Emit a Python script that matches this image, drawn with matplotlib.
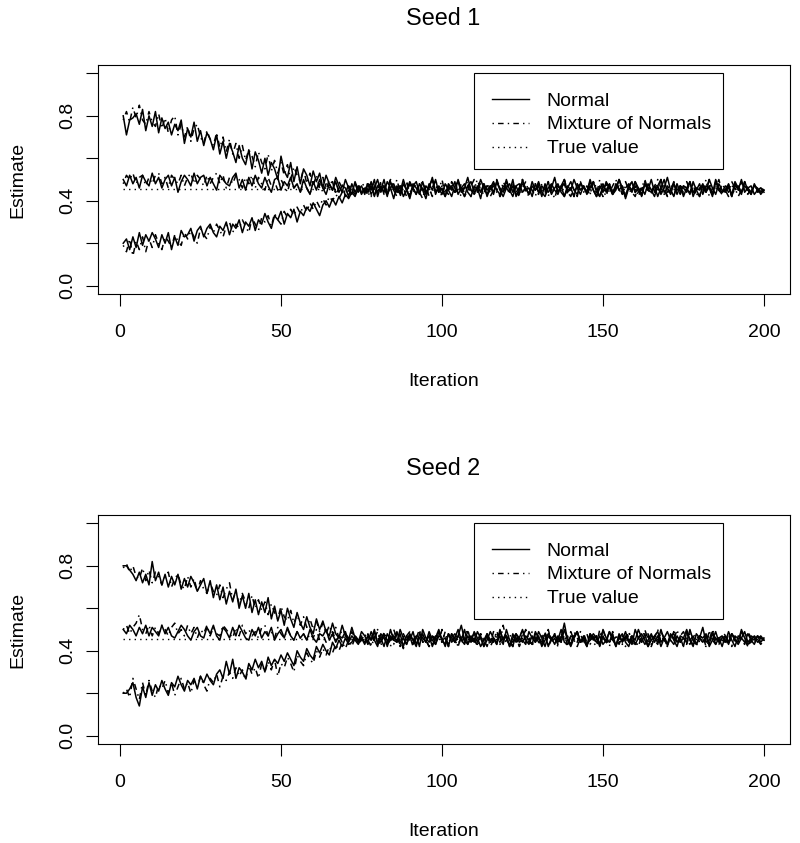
import numpy as np
import matplotlib.pyplot as plt
from matplotlib.patches import Rectangle

plt.rcParams['font.family'] = ['Liberation Sans', 'DejaVu Sans']

# estimates per iteration in hundredths (iterations 1..200)
seed1_normal_hi = """
80 71 78 79 81 76 83 73 80 75 82 72 79 74 77 71 76 73 78 67
74 70 77 68 73 66 72 69 64 71 62 68 60 67 63 58 66 60 57 64
55 63 59 53 60 52 58 55 50 61 54 51 58 49 56 48 55 52 47 54
49 53 46 52 48 45 51 47 44 50 46 43 49 45 47
43 48 45 50 42 47 44 49 46 41 47 44 50 45 42 48 46 43 49 44
46 51 43 47 45 42 48 46 44 50 45 42 47 49 44 46 41 48 45 47
43 49 46 44 50 45 42 47 48 44 46 43 49 45 47 42 48 44 46 51
44 47 42 46 49 45 43 48 46 44 50 45 42 47 44 49 46 43 48 45
47 41 46 49 44 46 42 48 45 50 44 47 43 46 51 45 42 48 44 47
46 43 49 45 42 47 44 50 46 43 48 45 44 47 42 49 46 44 47 45
43 48 45 46 44
"""
seed1_mix_hi = """
78 82 77 84 79 85 78 76 82 77 75 81 74 79 72 78 80 71 76 70
75 68 74 76 70 67 73 69 66 72 65 70 63 69 62 67 60 66 59 64
61 56 63 58 55 62 54 59 53 58 52 57 50 56 52 49 55 48 53 47
52 46 51 45 50 48 44 49 46 43 48 45 43 48 44
47 42 46 49 44 48 43 46 50 45 42 47 45 49 43 46 48 44 41 47
45 50 44 46 42 48 45 47 43 49 46 44 48 42 46 50 45 43 47 44
48 46 42 45 49 44 47 43 46 50 45 42 47 48 44 46 43 49 45 41
47 45 50 44 46 42 48 45 44 47 43 49 46 42 45 48 44 47 50 45
43 46 48 44 42 47 45 49 46 43 47 44 50 45 42 46 48 44 47 43
45 49 44 46 42 48 45 47 43 46 50 44 45 48 42 46 47 44 49 45
43 47 45 44 46
"""
seed1_normal_mid = """
50 47 52 48 51 46 52 49 47 53 48 51 46 50 52 47 51 44 49 52
50 47 53 48 51 52 47 51 48 45 52 50 48 47 51 53 46 50 45 51
47 52 48 46 51 47 44 50 51 45 49 47 51 46 48 44 50 46 43 49
45 50 46 43 48 45 49 44 47 46 42 48 44 47 43
46 44 49 42 47 45 50 43 46 48 44 47 42 45 49 46 43 48 45 41
47 50 44 46 43 48 45 42 47 49 44 46 51 45 43 47 44 48 42 46
49 45 43 47 46 44 50 42 45 48 46 43 47 45 49 44 42 46 48 45
43 47 50 44 46 42 48 45 47 43 46 49 44 42 47 45 48 43 46 50
45 42 47 44 49 46 43 48 45 44 47 42 46 50 44 45 48 43 47 46
44 49 42 46 45 48 44 47 43 50 46 44 45 48 42 47 46 43 49 45
44 47 46 43 45
"""
seed1_mix_mid = """
48 52 50 53 48 51 52 47 51 48 52 53 48 51 46 52 50 48 52 47
51 53 48 52 50 47 52 48 51 53 48 52 46 51 48 52 50 46 51 48
52 46 51 48 45 51 47 49 45 50 47 44 50 46 48 44 49 46 43 49
45 48 44 48 46 49 43 46 48 42 47 44 48 44 46
44 49 46 42 48 45 47 43 50 46 45 42 47 49 44 46 43 48 45 47
42 46 50 44 47 45 43 49 46 44 48 42 45 47 50 44 46 43 48 45
47 44 42 49 46 45 48 43 46 50 44 47 45 42 48 46 44 49 43 46
47 45 50 44 42 47 46 48 44 45 43 49 46 45 42 48 47 44 46 50
45 43 47 49 44 46 42 48 45 47 44 50 46 43 47 45 42 48 46 44
49 45 43 47 46 44 50 42 46 48 45 43 47 44 49 46 42 45 48 46
44 47 45 43 46
"""
seed1_normal_lo = """
20 22 17 23 18 25 19 24 21 25 22 18 24 20 25 17 23 19 26 23
24 27 21 26 28 23 27 29 25 23 28 26 30 24 29 27 31 25 30 28
32 26 31 29 34 30 27 33 31 35 29 34 32 36 30 35 33 37 35 39
36 33 38 40 37 41 38 42 39 43 41 44 42 46 44
45 48 43 46 50 44 47 42 49 45 46 43 48 45 41 47 49 44 46 43
48 45 50 44 46 42 47 45 49 43 46 48 44 42 47 45 50 46 43 47
44 49 45 42 46 48 44 47 43 50 45 46 42 48 44 47 45 49 43 46
48 44 42 47 45 50 46 43 47 44 49 45 42 46 48 44 47 43 45 50
46 42 47 45 49 44 46 43 48 45 42 47 50 44 46 43 48 45 47 42
46 49 44 45 48 43 47 46 42 49 45 44 47 46 43 48 45 50 44 46
47 43 45 46 45
"""
seed1_mix_lo = """
19 16 22 14 21 17 23 16 22 18 24 20 17 23 21 18 24 21 19 25
22 26 23 20 27 24 22 28 25 29 26 23 28 30 25 29 27 31 28 25
32 29 26 32 30 33 28 34 31 29 35 32 36 33 37 34 38 35 39 36
40 37 41 38 42 40 43 41 44 42 45 43 46 44 47
48 45 42 47 44 49 46 43 47 45 50 44 46 42 48 45 43 47 49 44
46 42 47 45 50 43 46 48 44 45 42 47 49 45 43 46 48 44 47 42
45 50 46 44 47 43 48 45 42 46 49 44 47 45 43 48 46 42 47 50
44 45 48 43 46 47 42 49 45 44 47 46 43 50 45 42 48 44 46 47
43 49 45 44 47 42 46 50 45 43 48 46 44 47 42 45 49 46 43 47
45 44 48 42 46 47 45 50 43 46 44 48 45 42 47 46 44 49 45 43
46 47 44 45 46
"""

seed2_normal_hi = """
80 80 78 76 73 77 72 76 71 82 73 77 71 76 70 75 71 76 69 74
70 75 72 68 71 74 67 73 65 71 64 70 62 68 63 69 60 66 60 67
58 64 57 63 58 65 55 61 54 59 52 60 55 51 58 53 50 56 51 48
55 50 54 49 47 53 48 46 52 47 45 51 46 44 49
47 44 49 45 42 48 46 43 50 45 44 48 42 47 45 49 43 46 48 44
47 42 46 50 45 43 48 46 44 47 52 45 43 47 44 49 46 42 48 45
46 43 49 45 47 42 48 44 46 50 45 43 47 44 49 46 42 47 45 48
44 46 53 45 43 47 49 44 46 42 48 45 47 43 50 46 44 48 42 46
45 49 44 47 43 46 48 45 42 47 46 44 50 45 43 47 48 44 46 42
49 45 47 43 46 51 44 45 48 43 46 47 44 49 45 42 47 46 44 48
45 43 47 46 45
"""
seed2_mix_hi = """
79 81 77 80 75 74 79 73 78 72 77 75 71 75 77 70 74 76 71 69
75 70 74 68 73 69 67 72 68 66 71 65 69 72 64 68 62 67 63 60
66 60 64 59 63 57 62 58 55 61 56 54 59 53 57 52 56 51 55 50
54 49 53 48 52 47 51 46 50 48 45 49 46 44 47
45 48 43 46 50 44 47 45 42 49 46 43 48 45 47 42 46 50 44 45
48 43 47 46 44 49 42 46 48 45 43 47 50 44 46 42 48 45 47 43
49 46 44 52 45 43 47 46 42 48 45 44 49 46 43 47 45 50 44 46
42 48 45 47 43 49 46 44 45 48 43 46 47 42 50 45 44 48 46 43
47 45 49 44 42 46 48 45 47 43 46 50 44 45 42 48 46 44 47 49
45 43 46 48 44 47 42 45 50 46 44 47 45 43 48 46 44 49 45 42
47 46 44 45 46
"""
seed2_normal_mid = """
50 48 52 50 47 51 48 52 47 51 49 47 52 48 51 47 46 49 52 50
47 45 49 51 47 46 51 48 52 47 45 51 49 46 51 47 52 49 46 45
50 47 51 46 49 47 51 45 48 50 46 51 47 45 49 46 48 45 50 46
44 48 47 50 45 48 44 47 46 49 44 47 45 43 46
44 47 45 50 43 46 48 42 47 45 49 44 46 43 48 45 47 42 50 46
44 47 43 49 45 46 42 48 44 47 45 50 43 46 48 44 47 42 45 49
46 44 47 43 50 45 42 48 46 44 47 45 43 49 46 44 48 42 46 47
45 50 44 43 47 46 49 44 45 42 48 46 44 47 43 45 49 46 42 48
44 47 45 43 50 46 44 48 42 45 47 49 44 46 43 48 45 42 47 46
44 50 45 43 47 46 48 42 45 49 44 46 47 43 48 45 44 50 46 43
45 47 44 46 45
"""
seed2_mix_mid = """
50 52 48 51 53 57 50 48 52 47 51 48 52 50 47 51 53 48 50 47
52 48 51 46 50 48 52 47 51 48 47 52 50 48 46 51 47 52 48 50
47 49 46 51 52 47 49 46 51 48 46 50 47 45 49 46 48 45 48 46
50 45 48 44 47 49 45 47 44 48 46 44 47 45 44
46 43 48 44 47 42 49 45 46 43 48 45 41 47 49 44 46 43 48 45
42 47 45 50 44 46 43 48 45 42 47 44 49 46 43 45 48 44 47 42
45 49 43 46 48 44 42 47 45 50 44 46 42 48 45 43 47 49 44 46
43 48 45 42 47 46 44 49 43 45 47 44 42 48 46 45 43 49 47 44
45 42 48 46 43 47 44 50 45 42 46 48 44 47 43 45 49 44 46 42
48 45 43 47 46 44 42 49 45 47 43 46 48 44 42 47 45 49 46 43
44 47 45 43 45
"""
seed2_normal_lo = """
20 20 22 25 18 14 23 18 25 19 24 21 26 22 19 25 23 28 24 21
26 24 27 22 28 25 29 26 24 29 31 27 35 29 36 27 32 30 27 34
31 36 32 35 30 37 33 36 34 38 35 39 36 33 40 37 35 41 38 36
42 39 43 40 38 44 41 45 42 46 43 44 47 45 46
43 47 45 49 44 46 42 48 45 47 44 50 46 43 47 45 42 48 46 44
49 45 43 47 46 42 48 44 46 50 45 43 47 44 49 46 42 45 48 44
46 43 50 45 47 42 46 48 44 45 43 49 46 44 47 42 45 48 46 43
47 44 50 45 42 46 49 44 47 43 45 48 46 42 47 44 49 45 43 46
48 44 42 47 45 50 46 43 45 48 44 47 42 46 49 45 43 47 44 46
50 45 42 48 46 44 47 43 49 45 46 42 47 44 48 45 43 46 49 44
46 45 47 44 46
"""
seed2_mix_lo = """
20 22 18 27 22 17 25 19 26 21 18 24 22 26 20 25 19 23 27 22
25 20 26 23 28 24 21 27 25 29 23 28 26 30 27 32 28 31 26 33
29 32 27 34 30 35 31 36 28 34 32 37 34 30 38 35 33 39 36 34
40 37 41 38 42 39 43 40 44 41 45 42 46 43 45
48 45 42 46 49 44 47 43 45 50 46 42 47 45 48 43 46 49 44 45
42 47 46 44 50 45 43 48 46 42 47 45 49 44 46 43 48 45 42 47
44 49 46 43 45 48 44 47 42 46 50 45 43 47 44 46 49 42 45 48
46 44 47 43 49 45 42 46 48 44 45 47 43 50 46 44 42 48 45 47
43 46 49 44 45 42 47 46 48 44 45 43 49 46 42 47 45 50 44 46
43 48 45 42 47 46 44 49 45 43 47 45 44 48 42 46 47 45 43 49
46 44 45 47 45
"""

true_value = 0.455
titles = ['Seed 1', 'Seed 2']
legend_labels = ['Normal', 'Mixture of Normals', 'True value']


def vals(s):
    return np.array(s.split(), dtype=float)[:200] / 100


panels = [
    [seed1_normal_hi, seed1_normal_mid, seed1_normal_lo,
     seed1_mix_hi, seed1_mix_mid, seed1_mix_lo],
    [seed2_normal_hi, seed2_normal_mid, seed2_normal_lo,
     seed2_mix_hi, seed2_mix_mid, seed2_mix_lo],
]

solid = '-'
dashdot = (0, (1, 3, 4, 3))
dotted = (0, (1, 3))

fig = plt.figure(figsize=(8, 8.43), dpi=100)

# axes boxes (left, bottom, width, height) and text positions in figure fractions
boxes = [[0.122, 0.651, 0.865, 0.2721], [0.122, 0.1172, 0.865, 0.2721]]
title_y = [0.9775, 0.4437]
xlabel_y = [0.5472, 0.0134]

for k in range(2):
    ax = fig.add_axes(boxes[k])
    series = [vals(s) for s in panels[k]]
    for i, y in enumerate(series):
        x = np.arange(1, len(y) + 1)
        ls = solid if i < 3 else dashdot
        ax.plot(x, y, color='black', lw=1.1, linestyle=ls)
    ax.plot([1, 200], [true_value, true_value], color='black', lw=1.0,
            linestyle=dotted)

    ax.set_xlim(-6.96, 207.96)
    ax.set_ylim(-0.04, 1.04)
    ax.set_xticks([0, 50, 100, 150, 200])
    ax.set_yticks([0.0, 0.2, 0.4, 0.6, 0.8, 1.0])
    ax.set_yticklabels(['0.0', '', '0.4', '', '0.8', ''])
    ax.tick_params(direction='out', length=8.6, width=0.8, labelsize=14,
                   color='black')
    ax.tick_params(axis='x', pad=13)
    ax.tick_params(axis='y', pad=7)
    for t in ax.get_yticklabels():
        t.set_rotation(90)
        t.set_va('center')
    for sp in ax.spines.values():
        sp.set_linewidth(0.8)
        sp.set_color('black')

    # legend drawn like R's legend box
    ax.add_patch(Rectangle((0.5439, 0.5445), 0.3599, 0.4185,
                           transform=ax.transAxes, fill=False,
                           lw=0.8, ec='black'))
    line_rows = [0.8496, 0.7476, 0.643]
    styles = [solid, dashdot, dotted]
    for yy, ls, lab in zip(line_rows, styles, legend_labels):
        ax.plot([0.5695, 0.6234], [yy, yy], transform=ax.transAxes,
                color='black', lw=1.0, linestyle=ls)
        ax.text(0.649, yy - 0.0087, lab, transform=ax.transAxes,
                fontsize=14, va='center', ha='left')

    fig.text(0.554, title_y[k], titles[k], fontsize=16.8, ha='center',
             va='center')
    fig.text(0.554, xlabel_y[k], 'Iteration', fontsize=14, ha='center',
             va='center')
    mid = boxes[k][1] + boxes[k][3] / 2
    fig.text(0.0221, mid, 'Estimate', fontsize=14, rotation=90,
             ha='center', va='center')

fig.savefig('out.png', dpi=100)
